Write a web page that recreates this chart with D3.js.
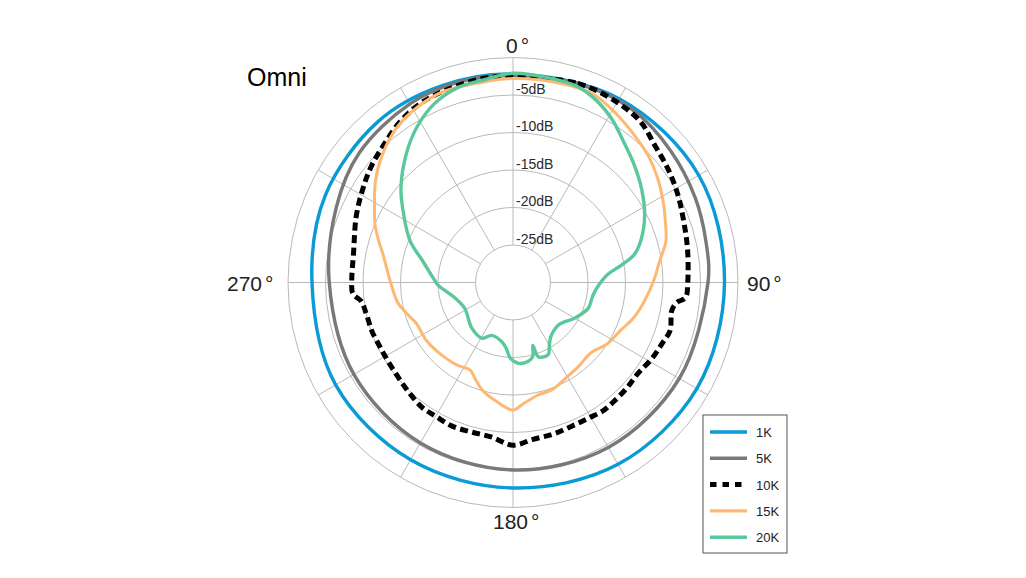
<!DOCTYPE html>
<html>
<head>
<meta charset="utf-8">
<script src="https://cdn.jsdelivr.net/npm/d3@7"></script>
<style>
  body { margin: 0; background: #fff; }
  svg { display: block; font-family: "Liberation Sans", Arial, sans-serif; }
</style>
</head>
<body>
<svg id="polar"></svg>
<script>
// polar response, values are [angle in degrees, level in dB]
const seriesNames = ["1K", "5K", "10K", "15K", "20K"];

const resp1k = [[0,-2.2],[30,-1.7],[60,-1.4],[90,-1.8],[120,-1.7],[150,-2.0],[180,-2.6],
  [210,-2.7],[240,-2.7],[270,-3.2],[295,-2.4],[320,-2.0],[340,-2.1]];

const resp5k = [[0,-2.4],[20,-2.1],[35,-2.0],[50,-2.6],[65,-3.2],[78,-3.7],[90,-4.0],
  [120,-4.4],[150,-4.6],[180,-5.0],[210,-5.3],[240,-5.5],[270,-5.5],[293,-4.4],[310,-3.2],
  [330,-2.5],[345,-2.3]];

const resp10k = [[0,-2.5],[18,-2.1],[28,-2.2],[38,-2.6],[46,-3.7],[54,-4.4],[62,-5.1],
  [70,-5.8],[79,-6.3],[90,-6.7],[95,-6.9],[97,-8.0],[100,-8.5],[107,-8.1],[112,-8.5],
  [119,-8.9],[126,-9.4],[133,-9.3],[140,-9.2],[145,-9.1],[151,-9.3],[158,-9.3],[165,-9.1],
  [173,-8.9],[180,-8.3],[188,-9.2],[196,-9.3],[203,-9.2],[210,-9.4],[216,-9.4],[223,-9.8],
  [229,-10.1],[237,-10.3],[244,-10.3],[251,-10.1],[258,-10.0],[263,-9.6],[266,-8.6],
  [271,-8.5],[280,-8.4],[293,-7.3],[302,-6.4],[309,-5.6],[317,-4.8],[325,-3.8],[333,-3.1],
  [342,-2.8],[352,-2.5]];

const resp15k = [[0,-2.8],[13,-2.7],[23,-2.7],[32,-3.7],[39,-4.5],[47,-5.3],[54,-6.2],
  [62,-7.3],[68,-8.1],[75,-8.9],[82,-10.3],[89,-11.2],[98,-12.3],[106,-13.2],[114,-14.3],
  [123,-15.0],[132,-16.0],[142,-15.8],[150,-15.5],[160,-14.8],[168,-14.6],[175,-13.8],
  [180,-13.0],[188,-14.0],[196,-15.1],[201,-16.1],[206,-17.0],[214,-16.7],[226,-16.4],
  [236,-16.1],[247,-16.0],[254,-15.2],[260,-14.4],[271,-13.6],[282,-12.3],[287,-11.3],
  [293,-10.0],[299,-8.9],[306,-7.3],[314,-5.7],[323,-4.2],[331,-3.4],[340,-2.9],[350,-3.0]];

const resp20k = [[0,-2.1],[10,-2.3],[18,-2.5],[24,-3.2],[31,-4.5],[38,-6.1],[46,-7.5],
  [54,-8.8],[63,-10.3],[72,-12.1],[77,-13.4],[81,-15.4],[85,-17.3],[92,-18.6],[99,-19.2],
  [109,-19.4],[120,-20.5],[133,-21.7],[145,-21.2],[150,-20.3],[154,-19.3],[161,-19.5],
  [162.5,-21.2],[165,-19.8],[169,-19.3],[176,-19.2],[182,-19.9],[186,-21.2],[191,-22.0],
  [202,-22.4],[209,-21.5],[222,-21.8],[242,-22.7],[255,-22.0],[268,-20.0],[272,-19.5],
  [283,-17.7],[292,-15.2],[302,-12.8],[310,-10.5],[320,-7.8],[328,-5.7],[336,-4.0],
  [344,-3.0],[352,-2.7]];

const ringLevels = [-25, -20, -15, -10, -5, 0];
const ringLabels = ["-25dB", "-20dB", "-15dB", "-10dB", "-5dB"];
const spokeAngles = [0, 30, 60, 90, 120, 150, 180, 210, 240, 270, 300, 330];
const angleLabels = ["0", "90", "180", "270"];

const W = 1026, H = 578;
const cx = 513, cy = 282.5;
const outerR = 225;

const styles = {
  "1K":  { color: "#0a9ad6", width: 3.4, dash: null },
  "5K":  { color: "#797979", width: 3.4, dash: null },
  "10K": { color: "#000000", width: 5, dash: "8,4.5" },
  "15K": { color: "#fdb972", width: 3, dash: null },
  "20K": { color: "#5ac89a", width: 3.4, dash: null }
};

const svg = d3.select("#polar").attr("width", W).attr("height", H);
const g = svg.append("g").attr("transform", `translate(${cx}, ${cy})`);

const r = d3.scaleLinear().domain([-30, 0]).range([0, outerR]);
const rad = (d) => (d * Math.PI) / 180;

// --- grid ---
g.selectAll("circle.ring")
  .data(ringLevels)
  .enter()
  .append("circle")
  .attr("class", "ring")
  .attr("r", (d) => r(d))
  .attr("fill", "none")
  .attr("stroke", "#b9b9b9")
  .attr("stroke-width", 1);

g.selectAll("line.spoke")
  .data(spokeAngles)
  .enter()
  .append("line")
  .attr("class", "spoke")
  .attr("x1", (d) => r(-25) * Math.sin(rad(d)))
  .attr("y1", (d) => -r(-25) * Math.cos(rad(d)))
  .attr("x2", (d) => r(0) * Math.sin(rad(d)))
  .attr("y2", (d) => -r(0) * Math.cos(rad(d)))
  .attr("stroke", "#b9b9b9")
  .attr("stroke-width", 1);

g.selectAll("text.ringlabel")
  .data(ringLabels)
  .enter()
  .append("text")
  .attr("class", "ringlabel")
  .attr("x", 3)
  .attr("y", (d) => -r(parseFloat(d)) - 1.5)
  .style("font-size", "14px")
  .style("fill", "#2a2a2a")
  .text((d) => d);

// --- angle labels ---
const angleText = g.selectAll("text.anglelabel")
  .data(angleLabels)
  .enter()
  .append("text")
  .attr("class", "anglelabel")
  .style("font-size", "21px")
  .style("fill", "#222");

angleText.each(function (d) {
  const a = +d;
  const t = d3.select(this);
  if (a === 0) t.attr("x", -7).attr("y", -outerR - 5);
  if (a === 180) t.attr("x", -20).attr("y", outerR + 21);
  if (a === 90) t.attr("x", outerR + 9).attr("y", 8);
  if (a === 270) t.attr("x", -outerR - 61).attr("y", 8);
  t.append("tspan").text(d);
  t.append("tspan").attr("dx", 3).text("°");
});

// --- curves ---
const line = d3.lineRadial()
  .angle((d) => rad(d[0]))
  .radius((d) => r(d[1]))
  .curve(d3.curveCatmullRomClosed.alpha(0.5));

const allSeries = [resp1k, resp5k, resp10k, resp15k, resp20k];

g.selectAll("path.curve")
  .data(allSeries)
  .enter()
  .append("path")
  .attr("class", "curve")
  .attr("d", line)
  .attr("fill", "none")
  .attr("stroke", (d, i) => styles[seriesNames[i]].color)
  .attr("stroke-width", (d, i) => styles[seriesNames[i]].width)
  .attr("stroke-dasharray", (d, i) => styles[seriesNames[i]].dash)
  .attr("stroke-linejoin", "round");

// --- title ---
svg.append("text")
  .attr("x", 247)
  .attr("y", 86)
  .style("font-size", "25px")
  .style("fill", "#000")
  .text("Omni");

// --- legend ---
const legend = svg.append("g").attr("transform", "translate(703, 415)");

legend.append("rect")
  .attr("width", 84)
  .attr("height", 138)
  .attr("fill", "#fff")
  .attr("stroke", "#555")
  .attr("stroke-width", 1);

const item = legend.selectAll("g.item")
  .data(seriesNames)
  .enter()
  .append("g")
  .attr("class", "item")
  .attr("transform", (d, i) => `translate(0, ${17 + i * 26.3})`);

item.append("line")
  .attr("x1", 7)
  .attr("x2", 44)
  .attr("stroke", (d) => styles[d].color)
  .attr("stroke-width", (d) => (d === "10K" ? 5 : 3.4))
  .attr("stroke-dasharray", (d) => (d === "10K" ? "6.5,6" : null));

item.append("text")
  .attr("x", 53)
  .attr("y", 5)
  .style("font-size", "13px")
  .style("fill", "#222")
  .text((d) => d);
</script>
</body>
</html>
